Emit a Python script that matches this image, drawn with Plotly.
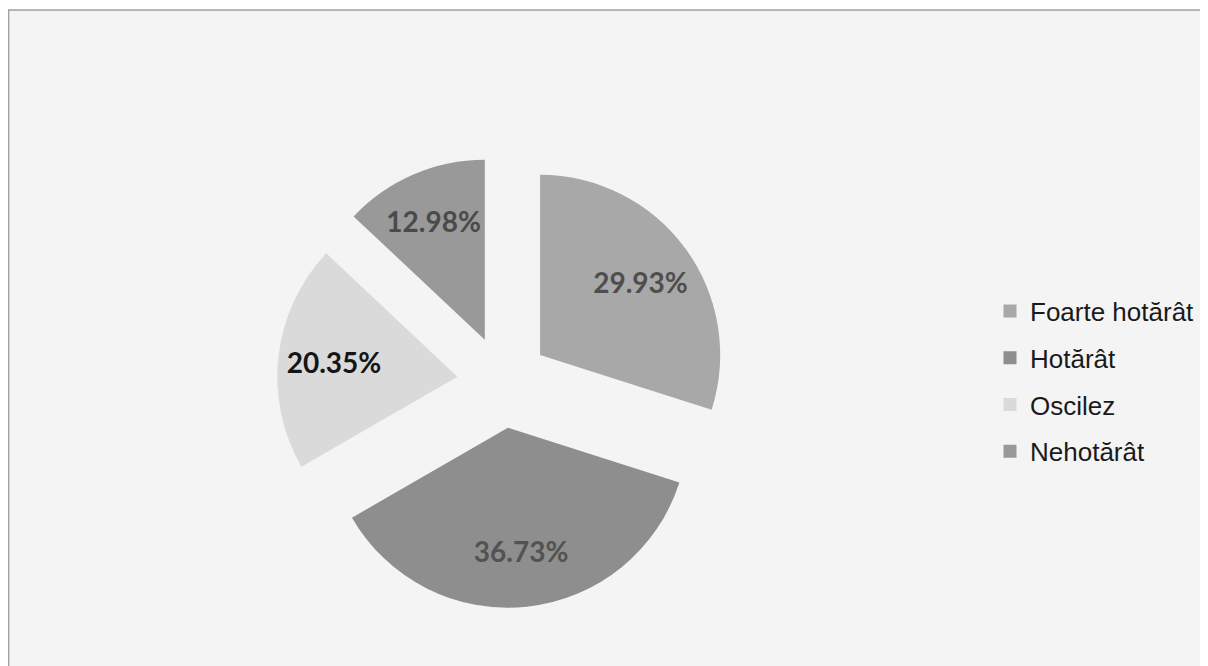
import plotly.graph_objects as go

categories = ["Foarte hotărât", "Hotărât", "Oscilez", "Nehotărât"]
values = [29.93, 36.73, 20.35, 12.98]
slice_colors = ["#a8a8a8", "#8e8e8e", "#dadada", "#999999"]
label_colors = ["#4e4e4e", "#535353", "#151515", "#4a4a4a"]

W, H = 1200, 658  # page body adds an 8px margin at left/top
domain = dict(x=[269 / W, 721 / W], y=[1 - 600 / H, 1 - 148 / H])
pull = [0.255] * len(values)

fig = go.Figure()

# visible slices
fig.add_trace(go.Pie(
    labels=categories,
    values=values,
    sort=False,
    direction="clockwise",
    rotation=0,
    pull=pull,
    marker=dict(colors=slice_colors, line=dict(width=0)),
    textinfo="none",
    showlegend=False,
    hoverinfo="skip",
    domain=domain,
))

# same slices, transparent, used only to place the percentage labels further out
fig.add_trace(go.Pie(
    labels=categories,
    values=values,
    sort=False,
    direction="clockwise",
    rotation=0,
    pull=pull,
    hole=0.38,
    marker=dict(colors=["rgba(0,0,0,0)"] * len(values), line=dict(width=0)),
    texttemplate="%{value:.2f}%",
    textposition="inside",
    insidetextorientation="horizontal",
    textfont=dict(family="Lato", size=28, weight="bold", color=label_colors),
    showlegend=False,
    hoverinfo="skip",
    domain=domain,
))

# legend entries (one group per category so spacing can match the original)
for name, col in zip(categories, slice_colors):
    fig.add_trace(go.Scatter(
        x=[None], y=[None], mode="markers", name=name,
        marker=dict(symbol="square", size=13, color=col),
        legendgroup=name, showlegend=True, hoverinfo="skip",
    ))

fig.add_shape(
    type="rect", xref="paper", yref="paper",
    x0=0.6 / W, x1=1.05, y0=-0.05, y1=1 - 2 / H,
    fillcolor="#f4f4f4", line=dict(color="#a0a0a0", width=1.5), layer="below",
)

fig.update_layout(
    width=W, height=H,
    margin=dict(l=0, r=0, t=0, b=0),
    paper_bgcolor="#ffffff",
    plot_bgcolor="rgba(0,0,0,0)",
    xaxis=dict(visible=False),
    yaxis=dict(visible=False),
    legend=dict(
        x=982 / W, xanchor="left",
        y=1 - 373.5 / H, yanchor="middle",
        font=dict(family="Liberation Sans", size=26, color="#1a1a1a"),
        tracegroupgap=10, itemwidth=30,
        bgcolor="rgba(0,0,0,0)",
    ),
)

fig.write_html("out.html")
